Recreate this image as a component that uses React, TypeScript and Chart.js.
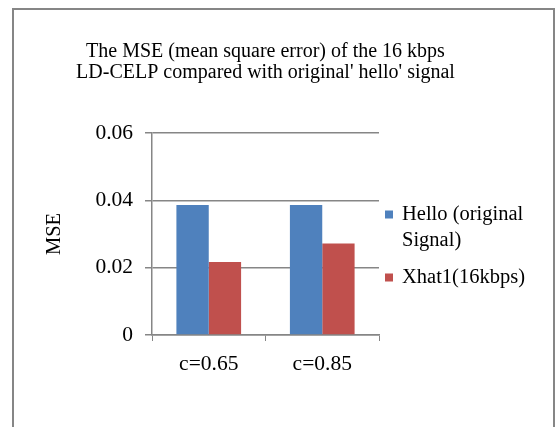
import React, { useEffect, useRef } from "react";
import { Chart, registerables } from "chart.js";

Chart.register(...registerables);

const titleLines = [
  "The MSE (mean square error) of the 16 kbps",
  "LD-CELP compared with original' hello' signal",
];
const categories = ["c=0.65", "c=0.85"];
const helloValues = [0.0386, 0.0386];
const xhatValues = [0.0217, 0.0272];
const seriesLabels = ["Hello (original Signal)", "Xhat1(16kbps)"];
const seriesColors = ["#4F81BD", "#C0504D"];
const yTicks = [0, 0.02, 0.04, 0.06];
const yTitle = "MSE";

const FONT = "'Liberation Serif', 'Times New Roman', serif";
const GRID = "#868686";

const titlePlugin = {
  id: "centerTitle",
  afterDraw(chart: any) {
    const ctx = chart.ctx;
    const area = chart.chartArea;
    const cx = (area.left + area.right) / 2;
    ctx.save();
    ctx.font = `20px ${FONT}`;
    ctx.fillStyle = "#000";
    ctx.textAlign = "center";
    ctx.textBaseline = "alphabetic";
    const firstBaseline = 57;
    const lineH = 20.5;
    titleLines.forEach((l, i) => ctx.fillText(l, cx, firstBaseline + i * lineH));
    ctx.restore();
  },
};

const legendPlugin = {
  id: "sideLegend",
  afterDraw(chart: any) {
    const ctx = chart.ctx;
    const area = chart.chartArea;
    const x0 = area.right + 6;
    const textX = x0 + 17;
    const maxW = chart.width - textX - 12;
    ctx.save();
    ctx.font = `20.5px ${FONT}`;
    ctx.textBaseline = "middle";
    ctx.textAlign = "left";
    const lineH = 26;
    const gap = 11;
    const items = chart.data.datasets.map((ds: any) => {
      const words = String(ds.label).split(" ");
      const lines: string[] = [];
      let cur = "";
      for (const w of words) {
        const t = cur ? cur + " " + w : w;
        if (ctx.measureText(t).width > maxW && cur) {
          lines.push(cur);
          cur = w;
        } else cur = t;
      }
      if (cur) lines.push(cur);
      return { lines, color: ds.backgroundColor };
    });
    const total = items.reduce((s: number, it: any) => s + it.lines.length * lineH, 0) + gap * (items.length - 1);
    let y = (area.top + area.bottom) / 2 + 12 - total / 2;
    for (const it of items) {
      const cy = y + lineH / 2;
      ctx.fillStyle = it.color;
      ctx.fillRect(x0, cy - 4, 8, 8);
      ctx.fillStyle = "#000";
      it.lines.forEach((l: string, i: number) => ctx.fillText(l, textX, cy + i * lineH));
      y += it.lines.length * lineH + gap;
    }
    ctx.restore();
  },
};

export default function App() {
  const ref = useRef<HTMLCanvasElement>(null);
  useEffect(() => {
    const chart = new Chart(ref.current!, {
      type: "bar",
      data: {
        labels: categories,
        datasets: [
          { label: seriesLabels[0], data: helloValues, backgroundColor: seriesColors[0] },
          { label: seriesLabels[1], data: xhatValues, backgroundColor: seriesColors[1] },
        ],
      },
      options: {
        animation: false,
        responsive: false,
        devicePixelRatio: 1,
        layout: { padding: { left: 0, right: 176, top: 133, bottom: 0 } },
        datasets: { bar: { categoryPercentage: 0.57, barPercentage: 1.0 } },
        plugins: {
          legend: { display: false },
          tooltip: { enabled: false },
          title: { display: false },
        },
        scales: {
          x: {
            grid: { drawOnChartArea: false, drawTicks: true, tickLength: 6, color: GRID, offset: true },
            border: { display: true, color: GRID, width: 1.5 },
            ticks: { color: "#000", font: { family: FONT, size: 21.5 }, padding: 10 },
            afterFit(scale: any) {
              scale.height = 92;
            },
          },
          y: {
            min: 0,
            max: 0.06,
            afterBuildTicks(scale: any) {
              scale.ticks = yTicks.map((v) => ({ value: v }));
            },
            grid: { color: GRID, lineWidth: 1.5, tickLength: 7, drawTicks: true },
            border: { display: true, color: GRID, width: 1.5 },
            ticks: { color: "#000", font: { family: FONT, size: 21.5 }, padding: 12 },
            title: {
              display: true,
              text: yTitle,
              color: "#000",
              font: { family: FONT, size: 20.5 },
              padding: { top: 42, bottom: 0 },
            },
            afterFit(scale: any) {
              scale.width = 152;
            },
          },
        },
      },
      plugins: [titlePlugin, legendPlugin],
    });
    return () => chart.destroy();
  }, []);
  return (
    <div>
      <div
        style={{
          position: "absolute",
          left: 12,
          top: 8,
          width: 543,
          height: 440,
          border: "2px solid #868686",
          boxSizing: "border-box",
        }}
      />
      <canvas
        ref={ref}
        width={555}
        height={427}
        style={{ position: "absolute", left: 0, top: 0, width: 555, height: 427 }}
      />
    </div>
  );
}
